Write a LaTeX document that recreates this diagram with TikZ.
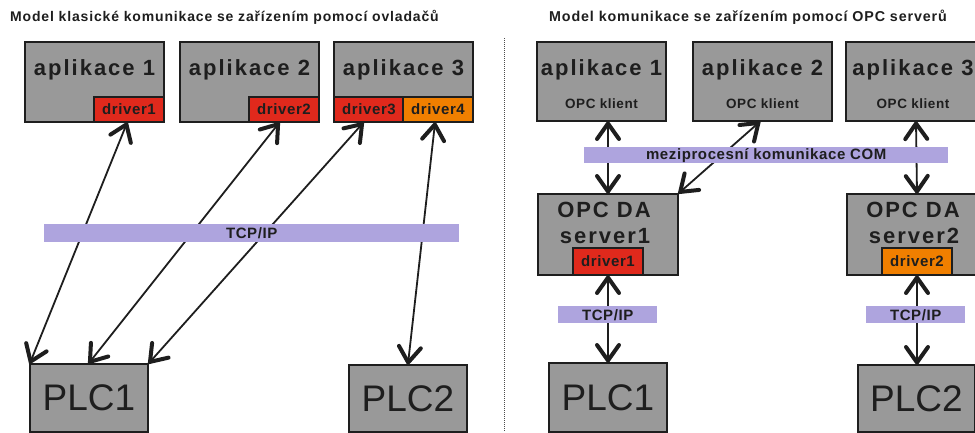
\documentclass[tikz,border=0pt]{standalone}
\usepackage{fontspec}
\setmainfont{Liberation Sans}
\newfontfamily\fbig[LetterSpace=9]{Liberation Sans}
\newfontfamily\fmid[LetterSpace=4]{Liberation Sans}
\newfontfamily\ftitle[LetterSpace=6]{Liberation Sans}
\usetikzlibrary{calc,decorations.markings}

\definecolor{boxgray}{HTML}{999999}
\definecolor{edgeink}{HTML}{1E1E1E}
\definecolor{drvred}{HTML}{E0291C}
\definecolor{drvorange}{HTML}{F07F00}
\definecolor{netbar}{HTML}{AEA4DE}

\tikzset{
  box/.style={draw=edgeink, line width=2pt, fill=boxgray, inner sep=0pt, anchor=north west},
  redbox/.style={draw=edgeink, line width=2pt, fill=drvred, inner sep=0pt,
    minimum width=70pt, minimum height=25pt, text=edgeink,
    font=\fmid\bfseries\fontsize{15}{17}\selectfont},
  orangebox/.style={redbox, fill=drvorange},
  plcbox/.style={box, text=edgeink, font=\fontsize{37}{40}\selectfont},
  bar/.style={fill=netbar, draw=none, inner sep=0pt, anchor=north west, text=edgeink,
    font=\fmid\bfseries\fontsize{15}{16}\selectfont},
  bigtxt/.style={font=\fbig\bfseries\fontsize{22}{24}\selectfont, text=edgeink, anchor=base, inner sep=0pt},
  smalltxt/.style={font=\fmid\bfseries\fontsize{13.5}{16}\selectfont, text=edgeink, anchor=base, inner sep=0pt},
  titletxt/.style={font=\ftitle\bfseries\fontsize{14}{15}\selectfont, text=edgeink, inner sep=0pt},
  % open chevron heads at both ends of a link
  chevronline/.style={draw=edgeink, line width=4pt, line cap=round, line join=miter},
  link/.style={draw=edgeink, line width=1.8pt,
    postaction={decorate},
    decoration={markings,
      mark=at position 0 with {\draw[chevronline] (17pt,11pt) -- (1.5pt,0pt) -- (17pt,-11pt);},
      mark=at position 1 with {\draw[chevronline] (-17pt,11pt) -- (-1.5pt,0pt) -- (-17pt,-11pt);}}},
}

\begin{document}
\begin{tikzpicture}[x=1pt, y=-1pt]
\useasboundingbox (0,0) rectangle (975,432);
\clip (0,0) rectangle (975,432);
\fill[white] (0,0) rectangle (975,432);

% ---------- titles ----------
\node[titletxt, anchor=base west] (titleL) at (10,21) {Model klasické komunikace se zařízením pomocí ovladačů};
\node[titletxt, anchor=base, font=\ftitle\bfseries\fontsize{14.3}{15}\selectfont] (titleR) at (748,21) {Model komunikace se zařízením pomocí OPC serverů};

% divider
\draw[edgeink!80, line width=1pt, dash pattern=on 1pt off 1pt] (504,38) coordinate (divtop) -- (504,432) coordinate (divbot);

% ---------- classic model: applications with drivers ----------
\node[box, minimum width=139pt, minimum height=80pt] (a1) at (24,41) {};
\node[box, minimum width=139pt, minimum height=80pt] (a2) at (179,41) {};
\node[box, minimum width=139pt, minimum height=80pt] (a3) at (333,41) {};
\node[bigtxt] (a1t) at ($(a1.north)+(0,34)$) {aplikace 1};
\node[bigtxt] (a2t) at ($(a2.north)+(0,34)$) {aplikace 2};
\node[bigtxt] (a3t) at ($(a3.north)+(0,34)$) {aplikace 3};

\node[redbox, anchor=south east] (d1) at (a1.south east) {driver1};
\node[redbox, anchor=south east] (d2) at (a2.south east) {driver2};
\node[redbox, anchor=south west] (d3) at (a3.south west) {driver3};
\node[orangebox, anchor=south east] (d4) at (a3.south east) {driver4};

% PLCs
\node[plcbox, minimum width=118pt, minimum height=68pt] (pL1) at (29,363) {PLC1};
\node[plcbox, minimum width=118pt, minimum height=67pt] (pL2) at (348,364) {PLC2};

% links through the network
\draw[link] ([xshift=-2pt]d1.south) -- ([xshift=1pt]pL1.north west);
\draw[link] ([xshift=-5pt]d2.south) -- (pL1.north);
\draw[link] ([xshift=-6pt]d3.south) -- (pL1.north east);
\draw[link] ([xshift=-3pt]d4.south) -- (pL2.north);

\node[bar, minimum width=415pt, minimum height=18pt] (netL) at (44,224) {TCP/IP};

% ---------- OPC model ----------
\node[box, minimum width=129pt, minimum height=79pt] (ra1) at (536,41) {};
\node[box, minimum width=139pt, minimum height=79pt] (ra2) at (692,41) {};
\node[box, minimum width=140pt, minimum height=79pt] (ra3) at (845,41) {};
\node[bigtxt] (ra1t) at ($(ra1.north)+(0,34)$) {aplikace 1};
\node[bigtxt] (ra2t) at ($(ra2.north)+(0,34)$) {aplikace 2};
\node[bigtxt] (ra3t) at ($(ra3.north)+(-3,34)$) {aplikace 3};
\node[smalltxt] (ra1c) at ($(ra1.north)+(0,67)$) {OPC klient};
\node[smalltxt] (ra2c) at ($(ra2.north)+(0,67)$) {OPC klient};
\node[smalltxt] (ra3c) at ($(ra3.north)+(-3,67)$) {OPC klient};

% OPC servers
\node[box, minimum width=140pt, minimum height=81pt] (srv1) at (537,193) {};
\node[box, minimum width=140pt, minimum height=81pt] (srv2) at (846,193) {};
\node[bigtxt] (srv1a) at ($(srv1.north)+(-4,24)$) {OPC DA};
\node[bigtxt] (srv1b) at ($(srv1.north)+(-3,50)$) {server1};
\node[bigtxt] (srv2a) at ($(srv2.north)+(-4,24)$) {OPC DA};
\node[bigtxt] (srv2b) at ($(srv2.north)+(-3,50)$) {server2};
\node[redbox, anchor=south, minimum height=27pt] (rd1) at (srv1.south) {driver1};
\node[orangebox, anchor=south, minimum height=27pt] (rd2) at (srv2.south) {driver2};

% PLCs
\node[plcbox, minimum width=118pt, minimum height=69pt] (pR1) at (548,362) {PLC1};
\node[plcbox, minimum width=117pt, minimum height=67pt] (pR2) at (857,364) {PLC2};

% links
\draw[link] (ra1.south -| srv1.north) -- (srv1.north);
\draw[link] ([xshift=-3pt]ra2.south) -- (srv1.north east);
\draw[link] (ra3.south) -- (srv2.north);
\draw[link] (rd1.south) -- (rd1.south |- pR1.north);
\draw[link] (rd2.south) -- (rd2.south |- pR2.north);

% communication layers
\node[bar, minimum width=364pt, minimum height=16pt] (com) at (584,147) {meziprocesní komunikace COM};
\node[bar, minimum width=99pt, minimum height=17pt, text depth=0pt] (netR1) at (558,306) {TCP/IP};
\node[bar, minimum width=99pt, minimum height=17pt, text depth=0pt] (netR2) at (866,306) {TCP/IP};
\end{tikzpicture}
\end{document}
